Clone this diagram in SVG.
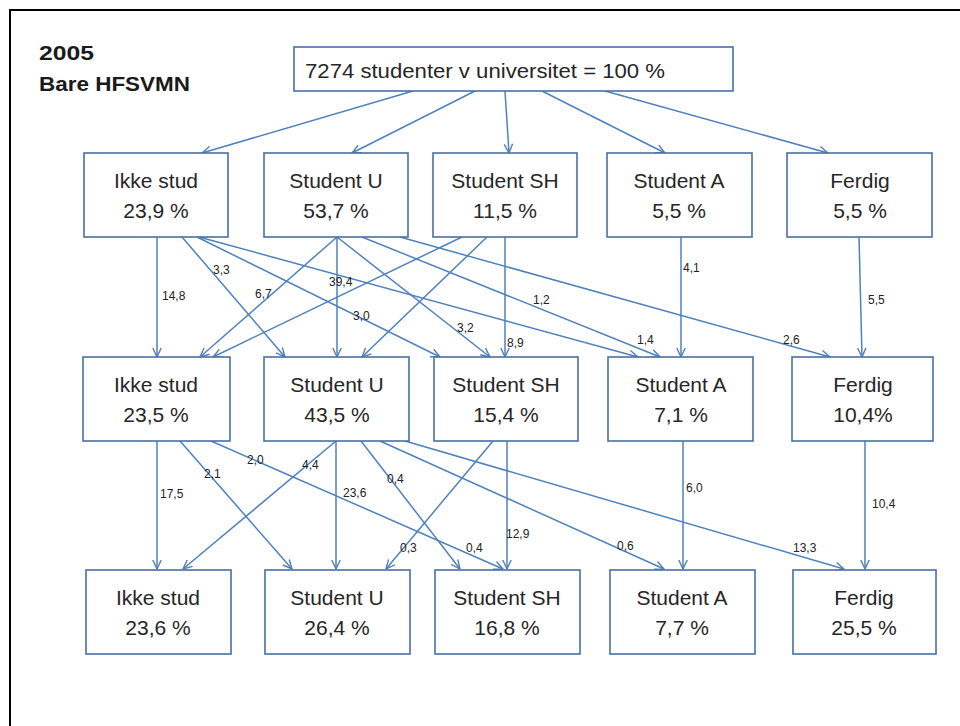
<svg xmlns="http://www.w3.org/2000/svg" width="960" height="726" viewBox="0 0 960 726">
<defs>
<marker id="ah" viewBox="0 0 10 10" refX="9.5" refY="5" markerWidth="10" markerHeight="10" orient="auto" markerUnits="userSpaceOnUse">
<path d="M0.5,0.8 L9.5,5 L0.5,9.2" fill="none" stroke="#4f81bd" stroke-width="1.4"/>
</marker>
<style>
.box{fill:#fff;stroke:#4a6fa5;stroke-width:1.6}
.nt{font-family:"Liberation Sans",Arial,sans-serif;font-size:21px;fill:#262626;text-anchor:middle}
.ttl{font-family:"Liberation Sans",Arial,sans-serif;font-size:21px;font-weight:bold;fill:#1a1a1a}
.c line{stroke:#4f81bd;stroke-width:1.5;fill:none;marker-end:url(#ah)}
.lb{font-family:"Liberation Sans",Arial,sans-serif;font-size:12px;fill:#222}
</style>
</defs>
<rect x="0" y="0" width="960" height="726" fill="#fff"/>
<rect x="10" y="10" width="990" height="760" fill="none" stroke="#000" stroke-width="2"/>
<g id="title">
<text class="ttl" x="39" y="60" textLength="55" lengthAdjust="spacingAndGlyphs">2005</text>
<text class="ttl" x="39" y="91" textLength="151" lengthAdjust="spacingAndGlyphs">Bare HFSVMN</text>
</g>
<g class="c" id="connectors">
<line x1="413" y1="91" x2="202" y2="153"/>
<line x1="475" y1="91" x2="352" y2="153"/>
<line x1="505" y1="91" x2="509" y2="153"/>
<line x1="542" y1="91" x2="665" y2="153"/>
<line x1="605" y1="91" x2="828" y2="153"/>
<line x1="157" y1="237" x2="157" y2="357"/>
<line x1="182" y1="237" x2="285" y2="357"/>
<line x1="197" y1="237" x2="440" y2="357"/>
<line x1="199" y1="237" x2="638" y2="357"/>
<line x1="337" y1="237" x2="337" y2="357"/>
<line x1="337" y1="237" x2="200" y2="357"/>
<line x1="337" y1="237" x2="490" y2="357"/>
<line x1="362" y1="237" x2="660" y2="357"/>
<line x1="400" y1="237" x2="830" y2="357"/>
<line x1="505" y1="237" x2="505" y2="357"/>
<line x1="462" y1="237" x2="213" y2="357"/>
<line x1="487" y1="237" x2="362" y2="357"/>
<line x1="681" y1="237" x2="681" y2="357"/>
<line x1="859" y1="237" x2="862" y2="357"/>
<line x1="157" y1="441" x2="157" y2="569"/>
<line x1="180" y1="441" x2="292" y2="569"/>
<line x1="211" y1="441" x2="503" y2="569"/>
<line x1="336" y1="441" x2="336" y2="569"/>
<line x1="336" y1="441" x2="183" y2="569"/>
<line x1="361" y1="441" x2="460" y2="569"/>
<line x1="380" y1="441" x2="664" y2="569"/>
<line x1="405" y1="441" x2="844" y2="569"/>
<line x1="507" y1="441" x2="507" y2="569"/>
<line x1="493" y1="441" x2="386" y2="569"/>
<line x1="683" y1="441" x2="683" y2="569"/>
<line x1="865" y1="441" x2="865" y2="569"/>
</g>
<g id="edge-labels">
<text class="lb" x="162" y="300">14,8</text>
<text class="lb" x="213" y="274">3,3</text>
<text class="lb" x="255" y="298">6,7</text>
<text class="lb" x="329" y="286">39,4</text>
<text class="lb" x="353" y="320">3,0</text>
<text class="lb" x="457" y="332">3,2</text>
<text class="lb" x="507" y="347">8,9</text>
<text class="lb" x="533" y="304">1,2</text>
<text class="lb" x="683" y="272">4,1</text>
<text class="lb" x="868" y="304">5,5</text>
<text class="lb" x="637" y="344">1,4</text>
<text class="lb" x="783" y="344">2,6</text>
<text class="lb" x="160" y="498">17,5</text>
<text class="lb" x="204" y="478">2,1</text>
<text class="lb" x="247" y="464">2,0</text>
<text class="lb" x="302" y="469">4,4</text>
<text class="lb" x="343" y="497">23,6</text>
<text class="lb" x="387" y="483">0,4</text>
<text class="lb" x="400" y="552">0,3</text>
<text class="lb" x="466" y="552">0,4</text>
<text class="lb" x="506" y="538">12,9</text>
<text class="lb" x="617" y="550">0,6</text>
<text class="lb" x="686" y="492">6,0</text>
<text class="lb" x="872" y="508">10,4</text>
<text class="lb" x="793" y="552">13,3</text>
</g>
<g id="n-top">
<rect class="box" x="294" y="47" width="439" height="44"/>
<text class="nt" x="305" y="78" style="text-anchor:start" textLength="360" lengthAdjust="spacingAndGlyphs">7274 studenter v universitet = 100 %</text>
</g>
<g id="n1-ikke"><rect class="box" x="84" y="153" width="144" height="84"/><text class="nt" x="156" y="188">Ikke stud</text><text class="nt" x="156" y="218">23,9 %</text></g>
<g id="n1-u"><rect class="box" x="264" y="153" width="144" height="84"/><text class="nt" x="336" y="188">Student U</text><text class="nt" x="336" y="218">53,7 %</text></g>
<g id="n1-sh"><rect class="box" x="433" y="153" width="144" height="84"/><text class="nt" x="505" y="188">Student SH</text><text class="nt" x="505" y="218">11,5 %</text></g>
<g id="n1-a"><rect class="box" x="607" y="153" width="145" height="84"/><text class="nt" x="679" y="188">Student A</text><text class="nt" x="679" y="218">5,5 %</text></g>
<g id="n1-ferdig"><rect class="box" x="787" y="153" width="145" height="84"/><text class="nt" x="860" y="188">Ferdig</text><text class="nt" x="860" y="218">5,5 %</text></g>
<g id="n2-ikke"><rect class="box" x="83" y="357" width="147" height="84"/><text class="nt" x="156" y="392">Ikke stud</text><text class="nt" x="156" y="422">23,5 %</text></g>
<g id="n2-u"><rect class="box" x="264" y="357" width="145" height="84"/><text class="nt" x="337" y="392">Student U</text><text class="nt" x="337" y="422">43,5 %</text></g>
<g id="n2-sh"><rect class="box" x="434" y="357" width="144" height="84"/><text class="nt" x="506" y="392">Student SH</text><text class="nt" x="506" y="422">15,4 %</text></g>
<g id="n2-a"><rect class="box" x="608" y="357" width="145" height="84"/><text class="nt" x="681" y="392">Student A</text><text class="nt" x="681" y="422">7,1 %</text></g>
<g id="n2-ferdig"><rect class="box" x="792" y="357" width="141" height="84"/><text class="nt" x="863" y="392">Ferdig</text><text class="nt" x="863" y="422">10,4%</text></g>
<g id="n3-ikke"><rect class="box" x="86" y="570" width="145" height="84"/><text class="nt" x="158" y="605">Ikke stud</text><text class="nt" x="158" y="635">23,6 %</text></g>
<g id="n3-u"><rect class="box" x="265" y="570" width="145" height="84"/><text class="nt" x="337" y="605">Student U</text><text class="nt" x="337" y="635">26,4 %</text></g>
<g id="n3-sh"><rect class="box" x="435" y="570" width="145" height="84"/><text class="nt" x="507" y="605">Student SH</text><text class="nt" x="507" y="635">16,8 %</text></g>
<g id="n3-a"><rect class="box" x="610" y="570" width="145" height="84"/><text class="nt" x="682" y="605">Student A</text><text class="nt" x="682" y="635">7,7 %</text></g>
<g id="n3-ferdig"><rect class="box" x="793" y="570" width="143" height="84"/><text class="nt" x="864" y="605">Ferdig</text><text class="nt" x="864" y="635">25,5 %</text></g>
</svg>
